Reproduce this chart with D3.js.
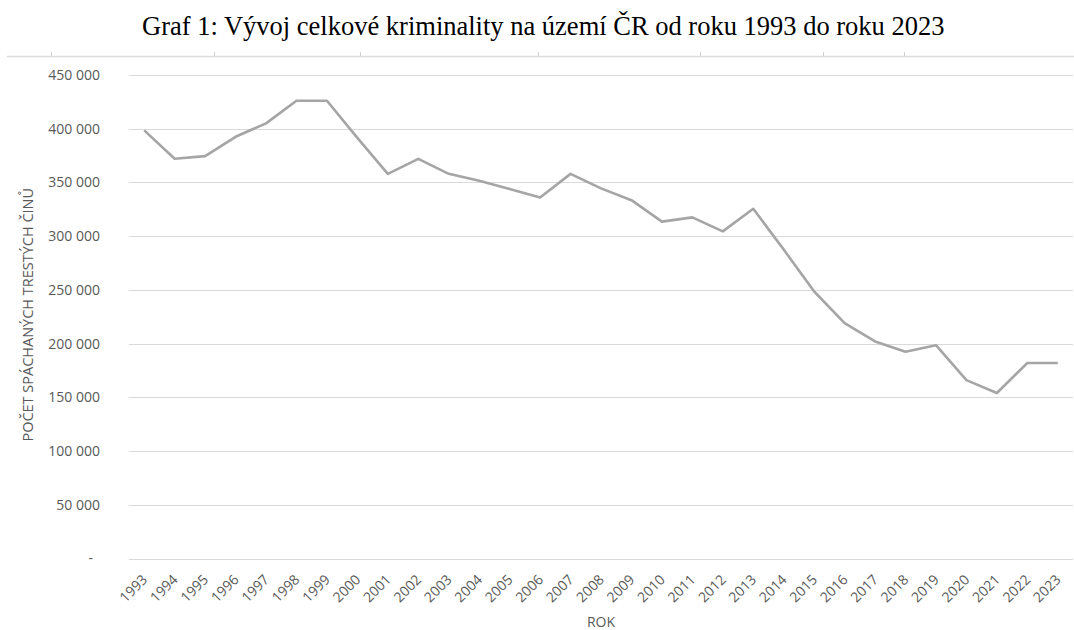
<!DOCTYPE html>
<html>
<head>
<meta charset="utf-8">
<script src="https://cdn.jsdelivr.net/npm/d3@7"></script>
<style>
  body { margin: 0; background: #fff; }
  svg { display: block; }
</style>
</head>
<body>
<div id="chart"></div>
<script>
// data
const years = ["1993","1994","1995","1996","1997","1998","1999","2000","2001","2002",
  "2003","2004","2005","2006","2007","2008","2009","2010","2011","2012","2013",
  "2014","2015","2016","2017","2018","2019","2020","2021","2022","2023"];
const crimes = [398500, 372000, 374500, 392500, 405000, 426000, 426000, 391500,
  358000, 372000, 358000, 351500, 344000, 336000, 358000, 344500, 333500,
  313500, 317500, 304500, 325500, 287500, 248500, 219000, 202000, 192500,
  198500, 166000, 154000, 182000, 182000];
const yTicks = [0, 50000, 100000, 150000, 200000, 250000, 300000, 350000, 400000, 450000];
// word ruler ticks visible above the chart
const rulerTicks = [51, 214, 360, 538, 700, 823, 904];

const W = 1074, H = 630;
const margin = { top: 75, right: 1, bottom: 71.5, left: 129 },
      width = W - margin.left - margin.right,
      height = H - margin.top - margin.bottom;

const svgRoot = d3.select("#chart")
  .append("svg")
    .attr("width", W)
    .attr("height", H);

// title
svgRoot.append("text")
  .attr("x", 142)
  .attr("y", 35)
  .attr("text-anchor", "start")
  .attr("font-family", "'Liberation Serif', 'Times New Roman', serif")
  .attr("font-size", "26.5px")
  .attr("fill", "#000")
  .text("Graf 1: Vývoj celkové kriminality na území ČR od roku 1993 do roku 2023");

// ruler line at the top
const ruler = svgRoot.append("g");
ruler.append("line")
  .attr("x1", 7).attr("x2", W)
  .attr("y1", 56.5).attr("y2", 56.5)
  .attr("stroke", "#dcdcdc")
  .attr("stroke-width", 1.5);
ruler.selectAll("line.t")
  .data(rulerTicks)
  .enter()
  .append("line")
    .attr("class", "t")
    .attr("x1", d => d + 0.5).attr("x2", d => d + 0.5)
    .attr("y1", 52).attr("y2", 56)
    .attr("stroke", "#d0d0d0");

const svg = svgRoot.append("g")
  .attr("transform", `translate(${margin.left},${margin.top})`);

const x = d3.scaleBand()
  .domain(years)
  .range([0, width]);

const y = d3.scaleLinear()
  .domain([0, 450000])
  .range([height, 0]);

const fmt = v => v === 0 ? "-" : d3.format(",")(v).replace(/,/g, " ");
const labelFont = "'Open Sans', 'Noto Sans', sans-serif";

// gridlines
svg.append("g")
  .selectAll("line")
  .data(yTicks)
  .enter()
  .append("line")
    .attr("x1", 0)
    .attr("x2", width)
    .attr("y1", d => Math.round(y(d)) + 0.5)
    .attr("y2", d => Math.round(y(d)) + 0.5)
    .attr("stroke", "#d9d9d9")
    .attr("stroke-width", 1.2);

// y axis labels
const yAxis = svg.append("g")
  .attr("transform", "translate(-29,0)")
  .call(d3.axisLeft(y).tickValues(yTicks).tickFormat(fmt).tickSize(0).tickPadding(0));
yAxis.select(".domain").remove();
yAxis.selectAll("text")
  .attr("font-family", labelFont)
  .attr("font-size", "14px")
  .attr("fill", "#595959")
  .attr("dx", d => d === 0 ? "-7px" : 0);

// x axis labels
const xAxis = svg.append("g")
  .attr("transform", `translate(0,${height})`)
  .call(d3.axisBottom(x).tickSize(0).tickPadding(0));
xAxis.select(".domain").remove();
xAxis.selectAll("text")
  .attr("font-family", labelFont)
  .attr("font-size", "14px")
  .attr("fill", "#595959")
  .style("text-anchor", "end")
  .attr("dx", 0)
  .attr("dy", 0)
  .attr("y", 0)
  .attr("transform", "translate(4,22) rotate(-45)");

// axis titles
svg.append("text")
  .attr("x", width / 2)
  .attr("y", height + 68)
  .attr("text-anchor", "middle")
  .attr("font-family", labelFont)
  .attr("font-size", "14px")
  .attr("fill", "#595959")
  .text("ROK");

svg.append("text")
  .attr("transform", `translate(${-96},${height / 2 - 2}) rotate(-90)`)
  .attr("text-anchor", "middle")
  .attr("font-family", labelFont)
  .attr("font-size", "14.5px")
  .attr("fill", "#595959")
  .text("POČET SPÁCHANÝCH TRESTÝCH ČINŮ");

// the line
const line = d3.line()
  .x((d, i) => x(years[i]) + x.bandwidth() / 2)
  .y(d => y(d));

svg.append("path")
  .datum(crimes)
  .attr("fill", "none")
  .attr("stroke", "#a5a5a5")
  .attr("stroke-width", 2.6)
  .attr("stroke-linejoin", "round")
  .attr("d", line);
</script>
</body>
</html>
